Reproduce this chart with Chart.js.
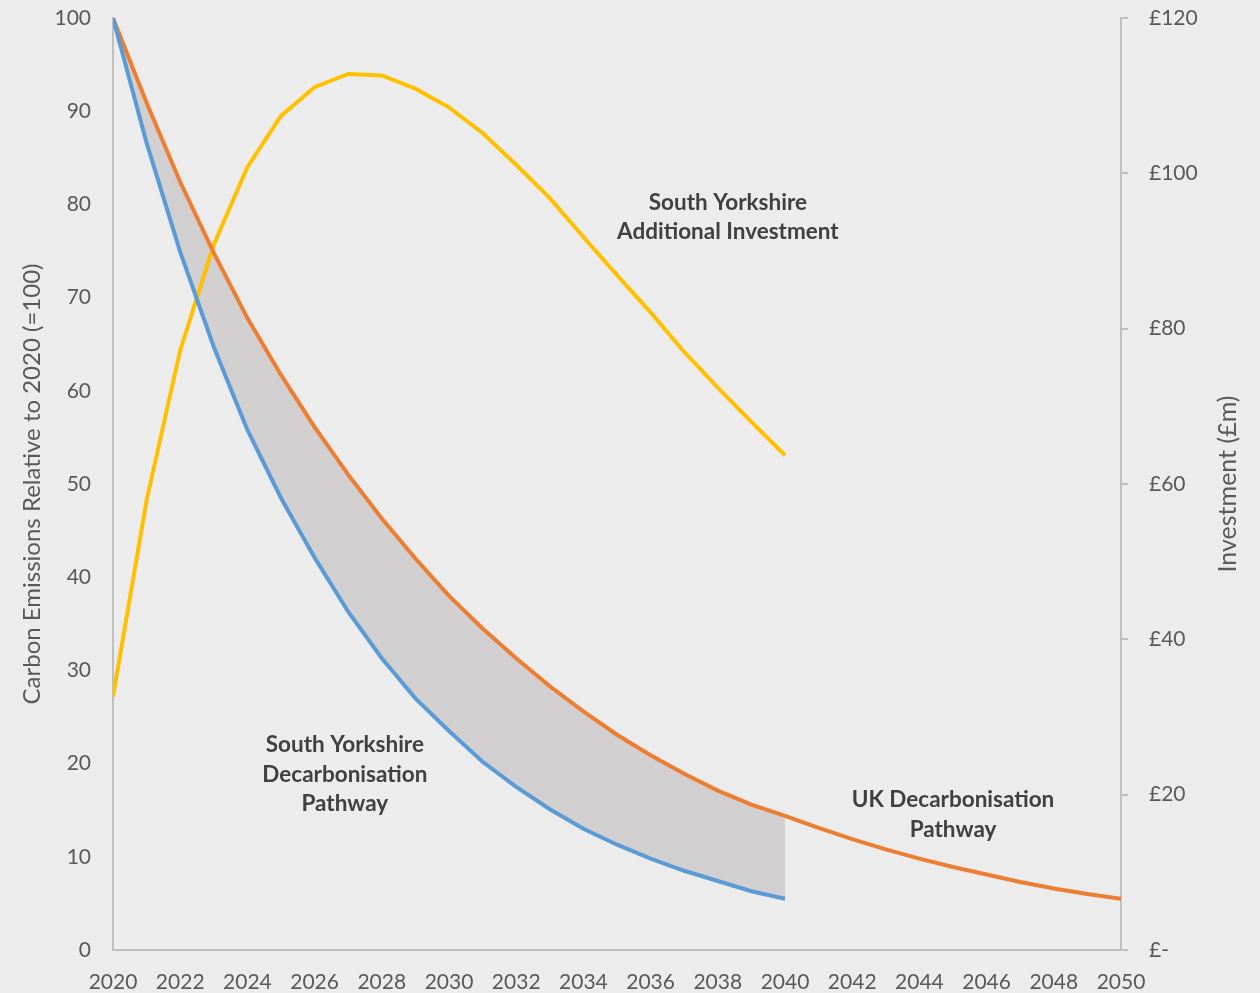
<!DOCTYPE html>
<html>
<head>
<meta charset="utf-8">
<script src="https://cdn.jsdelivr.net/npm/chart.js@4/dist/chart.umd.min.js"></script>
<style>
  html, body { margin: 0; padding: 0; background: #ececec; }
  #wrap { width: 1260px; height: 993px; }
</style>
</head>
<body>
<div id="wrap"><canvas id="pathwayChart"></canvas></div>
<script>
// data
const years = [2020, 2021, 2022, 2023, 2024, 2025, 2026, 2027, 2028, 2029, 2030,
               2031, 2032, 2033, 2034, 2035, 2036, 2037, 2038, 2039, 2040,
               2041, 2042, 2043, 2044, 2045, 2046, 2047, 2048, 2049, 2050];
const syPathway = [100, 86.6, 74.9, 64.7, 55.8, 48.5, 42.1, 36.3, 31.3, 27.0, 23.5,
                   20.2, 17.5, 15.1, 13.0, 11.3, 9.8, 8.5, 7.4, 6.3, 5.5];
const ukPathway = [100, 90.9, 82.4, 74.8, 67.8, 61.7, 56.1, 51.0, 46.3, 42.0, 38.0,
                   34.5, 31.3, 28.3, 25.6, 23.1, 20.9, 18.9, 17.1, 15.6, 14.4,
                   13.1, 11.9, 10.8, 9.8, 8.9, 8.1, 7.3, 6.6, 6.0, 5.5];
const syInvestment = [32.6, 57.9, 77.2, 90.8, 100.8, 107.4, 111.1, 112.8, 112.6, 110.9, 108.5,
                      105.2, 101.1, 96.8, 91.8, 86.9, 82.1, 77.0, 72.4, 68.0, 63.7];
const emissionTicks = [0, 10, 20, 30, 40, 50, 60, 70, 80, 90, 100];
const investmentTicks = [0, 20, 40, 60, 80, 100, 120];

const FONT = 'Lato';
const TICK_COL = '#595959';
const AXIS_COL = '#bfbfbf';

const toPoints = (vals) => vals.map((v, i) => ({ x: years[i], y: v }));

// band between the two pathways, only where SY series exists
const bandPoints = toPoints(ukPathway).slice(0, syPathway.length);

const labels = [
  { x: 2038.3, y: 80.2, lines: ['South Yorkshire', 'Additional Investment'] },
  { x: 2026.9, y: 22.0, lines: ['South Yorkshire', 'Decarbonisation', 'Pathway'] },
  { x: 2045.0, y: 16.1, lines: ['UK Decarbonisation', 'Pathway'] }
];

const annotations = {
  id: 'annotations',
  afterDatasetsDraw(chart) {
    const ctx = chart.ctx;
    const xs = chart.scales.x, ys = chart.scales.y;
    ctx.save();
    ctx.font = 'bold 22.5px ' + FONT;
    ctx.fillStyle = '#404040';
    ctx.textAlign = 'center';
    ctx.textBaseline = 'middle';
    labels.forEach(l => {
      const px = xs.getPixelForValue(l.x);
      const py = ys.getPixelForValue(l.y);
      l.lines.forEach((t, i) => ctx.fillText(t, px, py + i * 29.5));
    });
    // right axis title reads bottom to top
    const a = chart.chartArea;
    ctx.font = '25px ' + FONT;
    ctx.fillStyle = TICK_COL;
    ctx.translate(1228, (a.top + a.bottom) / 2);
    ctx.rotate(-Math.PI / 2);
    ctx.fillText('Investment (£m)', 0, 0);
    ctx.restore();
  }
};

const noEdgePad = (s) => { s.paddingTop = 0; s.paddingBottom = 0; };

const ctx = document.getElementById('pathwayChart').getContext('2d');
const chart = new Chart(ctx, {
  type: 'line',
  data: {
    datasets: [
      {
        label: 'South Yorkshire Decarbonisation Pathway',
        data: toPoints(syPathway),
        borderColor: '#5b9bd5',
        borderWidth: 4,
        pointRadius: 0,
        tension: 0,
        fill: false,
        yAxisID: 'y'
      },
      {
        label: 'UK Decarbonisation Pathway',
        data: toPoints(ukPathway),
        borderColor: '#ed7d31',
        borderWidth: 4,
        pointRadius: 0,
        tension: 0,
        fill: false,
        yAxisID: 'y'
      },
      {
        label: 'South Yorkshire Additional Investment',
        data: toPoints(syInvestment),
        borderColor: '#ffc000',
        borderWidth: 4,
        pointRadius: 0,
        tension: 0,
        fill: false,
        yAxisID: 'y2'
      },
      {
        label: 'gap',
        data: bandPoints,
        borderWidth: 0,
        borderColor: 'rgba(0,0,0,0)',
        backgroundColor: '#d1cfd0',
        pointRadius: 0,
        tension: 0,
        fill: { target: 0 },
        yAxisID: 'y'
      }
    ]
  },
  options: {
    responsive: true,
    maintainAspectRatio: false,
    animation: false,
    layout: { padding: { top: 18, left: 0, right: 0, bottom: 0 } },
    plugins: {
      legend: { display: false },
      tooltip: { enabled: false }
    },
    scales: {
      x: {
        type: 'linear',
        min: 2020,
        max: 2050,
        grid: { display: false, drawTicks: false },
        border: { display: true, color: AXIS_COL, width: 2 },
        afterBuildTicks: (s) => { s.ticks = years.filter(y => y % 2 === 0).map(v => ({ value: v })); },
        ticks: {
          padding: 20,
          maxRotation: 0,
          autoSkip: false,
          color: TICK_COL,
          font: { family: FONT, size: 21 },
          callback: (v) => String(v)
        },
        afterFit: (s) => { s.height = 43; }
      },
      y: {
        position: 'left',
        min: 0,
        max: 100,
        grid: { display: false, drawTicks: false },
        border: { display: true, color: AXIS_COL, width: 2 },
        afterBuildTicks: (s) => { s.ticks = emissionTicks.map(v => ({ value: v })); },
        ticks: {
          padding: 22,
          color: TICK_COL,
          font: { family: FONT, size: 21 }
        },
        title: {
          display: true,
          text: 'Carbon Emissions Relative to 2020 (=100)',
          color: TICK_COL,
          font: { family: FONT, size: 24 },
          padding: { top: 18, bottom: 0 }
        },
        afterFit: (s) => { s.width = 113; noEdgePad(s); }
      },
      y2: {
        position: 'right',
        min: 0,
        max: 120,
        grid: {
          display: true,
          drawOnChartArea: false,
          drawTicks: true,
          tickLength: 7,
          color: AXIS_COL,
          lineWidth: 2
        },
        border: { display: true, color: AXIS_COL, width: 2 },
        afterBuildTicks: (s) => { s.ticks = investmentTicks.map(v => ({ value: v })); },
        ticks: {
          padding: 21,
          color: TICK_COL,
          font: { family: FONT, size: 21 },
          callback: (v) => v === 0 ? '£-' : '£' + v
        },
        afterFit: (s) => { s.width = 139; noEdgePad(s); }
      }
    }
  },
  plugins: [annotations]
});
</script>
</body>
</html>
